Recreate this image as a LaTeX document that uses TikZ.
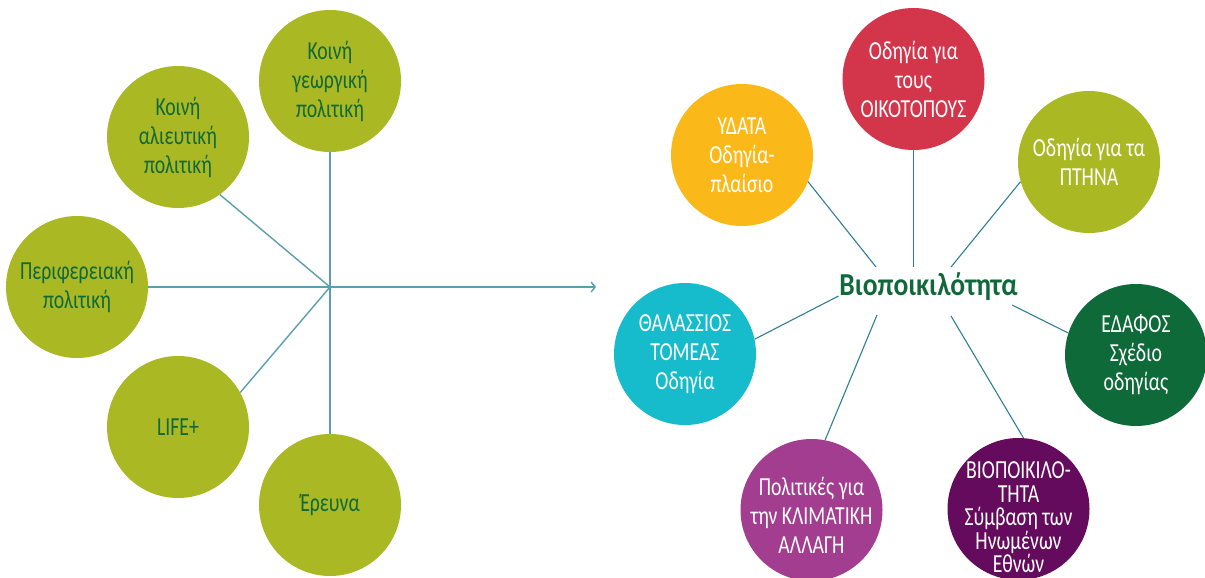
\documentclass[tikz,border=0pt]{standalone}
\usepackage{fontspec}
\setmainfont{Carlito}[FakeStretch=0.76]
\newfontfamily\biofont{Carlito}[FakeStretch=0.86]
\usetikzlibrary{arrows.meta,calc}
\definecolor{cOlive}{HTML}{A9B823}
\definecolor{cTxtGreen}{HTML}{10693A}
\definecolor{cRed}{HTML}{D3354A}
\definecolor{cYellow}{HTML}{FBB919}
\definecolor{cCyan}{HTML}{17BCCC}
\definecolor{cDkGreen}{HTML}{0F6A39}
\definecolor{cPurple}{HTML}{A33D90}
\definecolor{cDkPurple}{HTML}{650B5D}
\definecolor{cLineL}{HTML}{5A9FB1}
\definecolor{cLineR}{HTML}{2F7F98}
\begin{document}
\begin{tikzpicture}[x=1pt,y=-1pt,
  bub/.style={circle,minimum size=142pt,inner sep=0pt,align=center,
    font=\fontsize{26}{29}\selectfont},
  lft/.style={bub,fill=cOlive,text=cTxtGreen},
  rgt/.style={bub,text=white},
  lline/.style={draw=cLineL,line width=1.4pt},
  rline/.style={draw=cLineR,line width=1.1pt},
  biostyle/.style={inner sep=0pt,text=cTxtGreen,font=\biofont\bfseries\fontsize{32}{36}\selectfont}]
\useasboundingbox (0,0) rectangle (1205,578);
% left group
\node[lft] (geo) at (330,81) {Κοινή\\γεωργική\\πολιτική};
\node[lft] (alieu) at (178,137) {Κοινή\\αλιευτική\\πολιτική};
\node[lft] (perif) at (77,287) {Περιφερειακή\\πολιτική};
\node[lft] (life) at (178,427) {LIFE+};
\node[lft] (erev) at (330,505) {Έρευνα};
\coordinate (hub) at (330,287);
\coordinate (tip) at (596,287);
\draw[lline,-{Straight Barb[length=4pt,width=10pt,line width=1.4pt]}] (perif.east) -- (tip);
\draw[lline] (geo.south) -- (erev.north);
\draw[lline] (hub) -- (alieu.-54);
\draw[lline] (hub) -- (life.29);
% right group
\node[biostyle,anchor=base] (bio) at (928.5,295) {Βιοποικιλότητα};
\node[rgt,fill=cYellow] (ydata) at (742,155) {ΥΔΑΤΑ\\Οδηγία-\\πλαίσιο};
\node[rgt,fill=cRed] (oiko) at (913.5,79) {Οδηγία για\\τους\\ΟΙΚΟΤΟΠΟΥΣ};
\node[rgt,fill=cOlive] (ptina) at (1089,162) {Οδηγία για τα\\ΠΤΗΝΑ};
\node[rgt,fill=cCyan] (thal) at (685,354) {ΘΑΛΑΣΣΙΟΣ\\ΤΟΜΕΑΣ\\Οδηγία};
\node[rgt,fill=cDkGreen] (edafos) at (1136,355) {ΕΔΑΦΟΣ\\Σχέδιο\\οδηγίας};
\node[rgt,fill=cPurple] (klima) at (811.5,510) {\raisebox{-14.5pt}[0pt][0pt]{\begin{tabular}{@{}c@{}}Πολιτικές για\\την ΚΛΙΜΑΤΙΚΗ\\ΑΛΛΑΓΗ\end{tabular}}};
\node[rgt,fill=cDkPurple] (biosym) at (1018.5,509) {\fontsize{26}{23.5}\selectfont\raisebox{-14.5pt}[0pt][0pt]{\parbox{140pt}{\centering\lineskiplimit=-100pt ΒΙΟΠΟΙΚΙΛΟ-\\ΤΗΤΑ\\Σύμβαση των\\Ηνωμένων\\Εθνών}}};
\draw[rline] (ydata.-22) -- ($(bio.base)+(-52.5,-28)$);
\draw[rline] (oiko.south) -- ($(bio.base)+(-15,-28)$);
\draw[rline] (ptina.-164) -- ($(bio.base)+(22.5,-28)$);
\draw[rline] (thal.12.5) -- ($(bio.base)+(-90,1)$);
\draw[rline] (edafos.162.6) -- ($(bio.base)+(83.5,10)$);
\draw[rline] (klima.79.5) -- ($(bio.base)+(-51.5,20)$);
\draw[rline] (biosym.86) -- ($(bio.base)+(22.5,21)$);
\end{tikzpicture}
\end{document}
